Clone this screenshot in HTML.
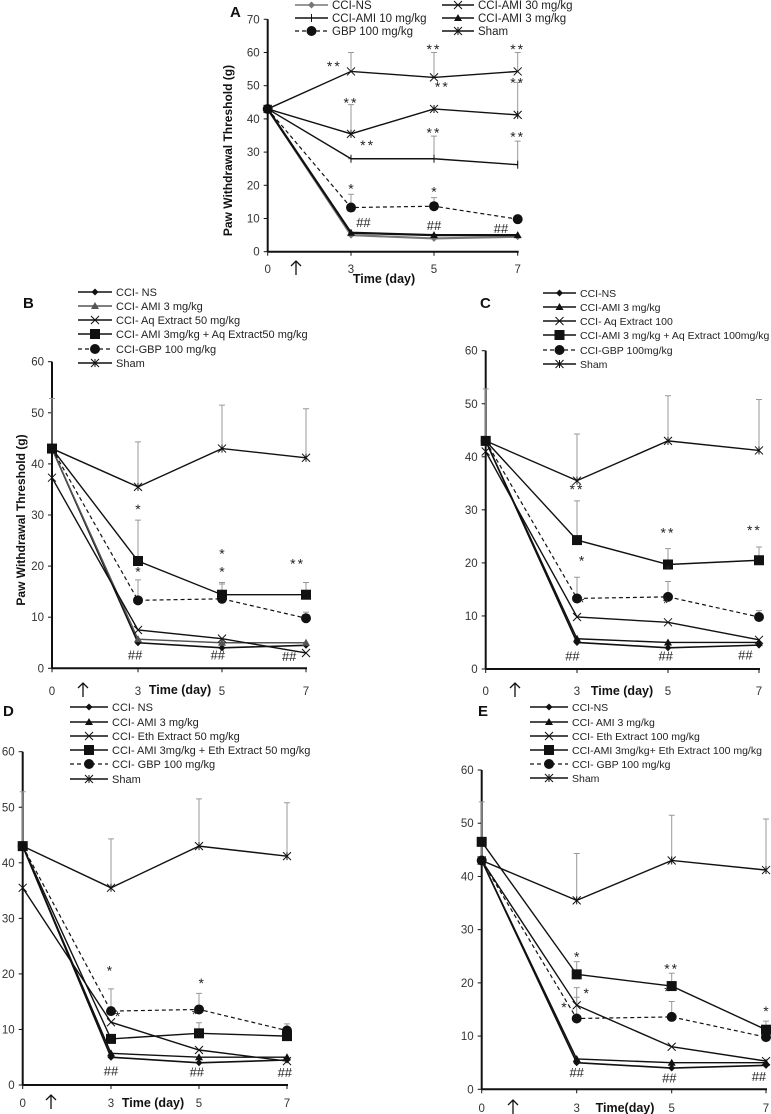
<!DOCTYPE html>
<html><head><meta charset="utf-8">
<style>
html,body{margin:0;padding:0;background:#fff;}
svg{display:block;font-family:"Liberation Sans",sans-serif;}
</style></head>
<body>
<svg id="fig" width="771" height="1114" viewBox="0 0 771 1114" xmlns="http://www.w3.org/2000/svg"></svg>
<script>
// ---- data (days and values) ----
const days = [0, 3, 5, 7];
const xTickLabels = ["0", "3", "5", "7"];
const yTicksA = [0, 10, 20, 30, 40, 50, 60, 70];
const yTicks = [0, 10, 20, 30, 40, 50, 60];

// Panel A
const aNS = [43, 5, 4, 4.5];
const aAMI30 = [43, 54.3, 52.5, 54.3];
const aAMI10 = [43, 28, 28, 26.2];
const aAMI3 = [43, 5.7, 5, 5];
const aGBP = [43, 13.3, 13.7, 9.8];
const aSham = [43, 35.5, 43, 41.2];
const aErrAMI30 = [null, 60, 60, 60];
const aErrAMI10 = [null, 28, 34.8, 33.3];
const aErrGBP = [null, 17.3, 16.3, null];
const aErrSham = [null, 44.3, null, 51];

// Panel B
const bNS = [43, 5, 4, 4.5];
const bAMI3 = [43, 5.7, 5, 5];
const bAq50 = [37.3, 7.5, 5.8, 3];
const bCombo = [43, 21, 14.4, 14.4];
const bGBP = [43, 13.3, 13.6, 9.8];
const bSham = [43, 35.5, 43, 41.2];
const bErrCombo = [null, 29, 16.8, 16.8];
const bErrGBP = [null, 17.3, 16.5, 11];
const bErrSham = [52.8, 44.3, 51.5, 50.8];

// Panel C
const cNS = [43, 5, 4, 4.5];
const cAMI3 = [43, 5.7, 5, 5];
const cAq100 = [41, 9.8, 8.8, 5.5];
const cCombo = [43, 24.3, 19.7, 20.5];
const cGBP = [43, 13.3, 13.6, 9.8];
const cSham = [43, 35.5, 43, 41.2];
const cErrCombo = [null, 31.7, 22.7, 23];
const cErrGBP = [null, 17.3, 16.5, 11];
const cErrSham = [52.8, 44.3, 51.5, 50.8];

// Panel D
const dNS = [43, 5, 4, 4.5];
const dAMI3 = [43, 5.7, 5, 5];
const dEth50 = [35.5, 11.3, 6.3, 4.3];
const dCombo = [43, 8.3, 9.3, 8.8];
const dGBP = [43, 13.3, 13.6, 9.8];
const dSham = [43, 35.5, 43, 41.2];
const dErrGBP = [null, 17.3, 16.5, 11];
const dErrCombo = [null, null, 11.2, 10];
const dErrSham = [52.8, 44.3, 51.5, 50.8];

// Panel E
const eNS = [43, 5, 4, 4.5];
const eAMI3 = [43, 5.7, 5, 5];
const eEth100 = [43, 15.8, 8, 5.3];
const eCombo = [46.5, 21.6, 19.4, 11.2];
const eGBP = [43, 13.3, 13.6, 9.8];
const eSham = [43, 35.5, 43, 41.2];
const eErrCombo = [null, 24, 21.8, 12.8];
const eErrEth = [null, 19.1, null, null];
const eErrGBP = [null, 17.3, 16.5, 11];
const eErrSham = [54, 44.3, 51.5, 50.8];

// annotations [day, value, text]
const annA = [[2.4,54.5,"**"],[3,43.5,"**"],[3.4,30.6,"**"],[5,59.5,"**"],[5.2,48.3,"**"],[5,34.4,"**"],[7,59.5,"**"],[7,49.5,"**"],[7,33.2,"**"],[3,17.6,"*"],[5,16.6,"*"],[3.3,7.5,"##"],[5,6.5,"##"],[6.6,5.7,"##"]];
const annB = [[3,30.2,"*"],[3,18,"*"],[5,21.5,"*"],[5,18,"*"],[6.8,19.5,"**"],[2.9,1.7,"##"],[4.9,1.7,"##"],[6.6,1.4,"##"]];
const annC = [[3,33,"**"],[3.1,19.5,"*"],[3.1,11.7,"*"],[5,24.8,"**"],[5,17.8,"*"],[4.95,11.5,"*"],[6.9,25.3,"**"],[2.85,1.6,"##"],[4.95,1.6,"##"],[6.7,1.8,"##"]];
const annD = [[2.95,19.7,"*"],[3.15,11.5,"*"],[5.05,17.5,"*"],[4.9,11.9,"*"],[3,1.7,"##"],[4.95,1.5,"##"],[6.95,1.4,"##"]];
const annE = [[3,24,"*"],[3.2,17.2,"*"],[2.6,14.5,"*"],[5,21.8,"**"],[4.9,17.5,"*"],[7,13.8,"*"],[3,2.3,"##"],[4.95,1.3,"##"],[6.85,1.6,"##"]];

// ---- geometry (layout only) ----
const panels = [
 {id:"a", letter:"A", lx:230, ly:17, ax:[267.7,351,434,517.7], y0:251.7, yTop:19.3, yMax:70, ticks:yTicksA,
  xtY:269, xTitle:"Time (day)", xTitleX:384, xTitleY:283, yTitle:true, yTitleX:232, arrowX:296, lf:11.5,
  series:[
   {name:"CCI-NS", v:aNS, m:"diamond", c:"#777", w:2.2},
   {name:"CCI-AMI 30 mg/kg", v:aAMI30, m:"x", c:"#111", w:1.4},
   {name:"CCI-AMI 10 mg/kg", v:aAMI10, m:"plus", c:"#111", w:1.4},
   {name:"CCI-AMI 3 mg/kg", v:aAMI3, m:"tri", c:"#111", w:2.2},
   {name:"GBP 100 mg/kg", v:aGBP, m:"circle", c:"#111", w:1.2, dash:true},
   {name:"Sham", v:aSham, m:"star", c:"#111", w:1.4}],
  errs:[aErrAMI30,aErrAMI10,aErrGBP,aErrSham], errBase:[aAMI30,aAMI10,aGBP,aSham],
  ann:annA,
  legend:{cols:[[295,332],[442,478]], rows:[5,18,31], order:[[0,0],[0,1],[1,0],[1,1],[2,0],[2,1]]}},
 {id:"b", letter:"B", lx:23, ly:308, ax:[52,138,222,306], y0:668.3, yTop:361.7, yMax:60, ticks:yTicks,
  xtY:691, xTitle:"Time (day)", xTitleX:180, xTitleY:694, yTitle:true, yTitleX:25, arrowX:83, lf:11,
  series:[
   {name:"CCI- NS", v:bNS, m:"diamond", c:"#111", w:1.6},
   {name:"CCI- AMI 3 mg/kg", v:bAMI3, m:"tri", c:"#555", w:1.4},
   {name:"CCI- Aq Extract 50 mg/kg", v:bAq50, m:"x", c:"#111", w:1.4},
   {name:"CCI- AMI 3mg/kg + Aq Extract50 mg/kg", v:bCombo, m:"square", c:"#111", w:1.4},
   {name:"CCI-GBP 100 mg/kg", v:bGBP, m:"circle", c:"#111", w:1.2, dash:true},
   {name:"Sham", v:bSham, m:"star", c:"#111", w:1.4}],
  errs:[bErrCombo,bErrGBP,bErrSham], errBase:[bCombo,bGBP,bSham], ann:annB,
  legend:{cols:[[78,116]], rows:[292,306,320,334,349,363]}},
 {id:"c", letter:"C", lx:480, ly:308, ax:[485.7,577,668,759], y0:669, yTop:350.7, yMax:60, ticks:yTicks,
  xtY:691, xTitle:"Time (day)", xTitleX:622, xTitleY:695, yTitle:false, arrowX:515, lf:10.5,
  series:[
   {name:"CCI-NS", v:cNS, m:"diamond", c:"#111", w:1.6},
   {name:"CCI-AMI 3 mg/kg", v:cAMI3, m:"tri", c:"#111", w:1.4},
   {name:"CCI- Aq Extract 100", v:cAq100, m:"x", c:"#111", w:1.4},
   {name:"CCI-AMI 3 mg/kg + Aq Extract 100mg/kg", v:cCombo, m:"square", c:"#111", w:1.4},
   {name:"CCI-GBP 100mg/kg", v:cGBP, m:"circle", c:"#111", w:1.2, dash:true},
   {name:"Sham", v:cSham, m:"star", c:"#111", w:1.4}],
  errs:[cErrCombo,cErrGBP,cErrSham], errBase:[cCombo,cGBP,cSham], ann:annC,
  legend:{cols:[[543,580]], rows:[293,307,321,335,350,364]}},
 {id:"d", letter:"D", lx:3, ly:716, ax:[22.7,111,199,287], y0:1085, yTop:751.7, yMax:60, ticks:yTicks,
  xtY:1103, xTitle:"Time (day)", xTitleX:153, xTitleY:1107, yTitle:false, arrowX:51, lf:11,
  series:[
   {name:"CCI- NS", v:dNS, m:"diamond", c:"#111", w:1.6},
   {name:"CCI- AMI 3 mg/kg", v:dAMI3, m:"tri", c:"#111", w:1.4},
   {name:"CCI- Eth Extract 50 mg/kg", v:dEth50, m:"x", c:"#111", w:1.4},
   {name:"CCI- AMI 3mg/kg + Eth Extract 50 mg/kg", v:dCombo, m:"square", c:"#111", w:1.4},
   {name:"CCI- GBP 100 mg/kg", v:dGBP, m:"circle", c:"#111", w:1.2, dash:true},
   {name:"Sham", v:dSham, m:"star", c:"#111", w:1.4}],
  errs:[dErrGBP,dErrCombo,dErrSham], errBase:[dGBP,dCombo,dSham], ann:annD,
  legend:{cols:[[70,112]], rows:[707,722,736,750,764,779]}},
 {id:"e", letter:"E", lx:478, ly:716, ax:[481.7,576.7,671.7,766], y0:1089.3, yTop:770, yMax:60, ticks:yTicks,
  xtY:1108, xTitle:"Time(day)", xTitleX:625, xTitleY:1112, yTitle:false, arrowX:513, lf:10.5,
  series:[
   {name:"CCI-NS", v:eNS, m:"diamond", c:"#111", w:1.6},
   {name:"CCI- AMI 3 mg/kg", v:eAMI3, m:"tri", c:"#111", w:1.4},
   {name:"CCI- Eth Extract 100 mg/kg", v:eEth100, m:"x", c:"#111", w:1.4},
   {name:"CCI-AMI 3mg/kg+ Eth Extract 100 mg/kg", v:eCombo, m:"square", c:"#111", w:1.4},
   {name:"CCI- GBP 100 mg/kg", v:eGBP, m:"circle", c:"#111", w:1.2, dash:true},
   {name:"Sham", v:eSham, m:"star", c:"#111", w:1.4}],
  errs:[eErrCombo,eErrEth,eErrGBP,eErrSham], errBase:[eCombo,eEth100,eGBP,eSham], ann:annE,
  legend:{cols:[[530,572]], rows:[707,722,736,750,764,778]}}
];

const NS = "http://www.w3.org/2000/svg";
const svg = document.getElementById("fig");
function mk(tag, attrs, parent){
  const e = document.createElementNS(NS, tag);
  for (const k in attrs) e.setAttribute(k, attrs[k]);
  (parent||svg).appendChild(e);
  return e;
}
function marker(g, type, x, y, color){
  const s = 4;
  let e;
  if (type === "diamond") e = mk("polygon",{points:`${x},${y-3.5} ${x+3.5},${y} ${x},${y+3.5} ${x-3.5},${y}`,fill:color},g);
  else if (type === "tri") e = mk("polygon",{points:`${x},${y-4} ${x+4},${y+3} ${x-4},${y+3}`,fill:color},g);
  else if (type === "square") e = mk("rect",{x:x-5,y:y-5,width:10,height:10,fill:color},g);
  else if (type === "circle") e = mk("circle",{cx:x,cy:y,r:5,fill:color},g);
  else if (type === "x") e = mk("path",{d:`M${x-s},${y-s}L${x+s},${y+s}M${x-s},${y+s}L${x+s},${y-s}`,stroke:color,"stroke-width":1,fill:"none"},g);
  else if (type === "plus") e = mk("path",{d:`M${x},${y-s}V${y+s}`,stroke:color,"stroke-width":1,fill:"none"},g);
  else e = mk("path",{d:`M${x-s},${y-s}L${x+s},${y+s}M${x-s},${y+s}L${x+s},${y-s}M${x},${y-s}V${y+s}`,stroke:color,"stroke-width":1,fill:"none"},g);
  
  
}

panels.forEach(p => {
  const g = mk("g",{});
  
  
  const xS = i => p.ax[i];
  const xD = d => {
    for (let i=0;i<days.length-1;i++){ if (d<=days[i+1]) return p.ax[i]+(d-days[i])/(days[i+1]-days[i])*(p.ax[i+1]-p.ax[i]); }
    return p.ax[p.ax.length-1];
  };
  const yS = v => p.y0 - v/p.yMax*(p.y0-p.yTop);

  const lt = mk("text",{x:p.lx,y:p.ly,"font-size":15,"font-weight":"bold",fill:"#111"},g);
  lt.textContent = p.letter;
  
  

  const yax = mk("line",{x1:p.ax[0],y1:p.y0,x2:p.ax[0],y2:p.yTop,stroke:"#111","stroke-width":2},g);
  
  
  const xax = mk("line",{x1:p.ax[0],y1:p.y0,x2:p.ax[3]+1,y2:p.y0,stroke:"#111","stroke-width":2},g);
  
  
  p.ticks.forEach(t => {
    mk("line",{x1:p.ax[0]-4,y1:yS(t),x2:p.ax[0],y2:yS(t),stroke:"#111","stroke-width":1},g);
    const tl = mk("text",{x:p.ax[0]-8,y:yS(t)+4,"font-size":11.5,"text-anchor":"end",fill:"#333"},g);
    tl.textContent = t;
    
    
  });
  days.forEach((d,i) => {
    mk("line",{x1:xS(i),y1:p.y0,x2:xS(i),y2:p.y0+4,stroke:"#111","stroke-width":1},g);
    const tl = mk("text",{x:xS(i),y:p.xtY+4,"font-size":11.5,"text-anchor":"middle",fill:"#333"},g);
    tl.textContent = xTickLabels[i];
    
    
  });
  const ax0 = p.arrowX, ay = p.xtY;
  const ar = mk("path",{d:`M${ax0},${ay+6}V${ay-8}M${ax0-5},${ay-3}L${ax0},${ay-8}L${ax0+5},${ay-3}`,stroke:"#111","stroke-width":1.3,fill:"none"},g);
  
  
  const xt = mk("text",{x:p.xTitleX,y:p.xTitleY,"font-size":12.5,"font-weight":"bold","text-anchor":"middle",fill:"#111"},g);
  xt.textContent = p.xTitle;
  
  
  if (p.yTitle){
    const cy = (p.y0+p.yTop)/2 + (p.id==="a"?15:5);
    const yt = mk("text",{x:p.yTitleX,y:cy,"font-size":12,"font-weight":"bold","text-anchor":"middle",fill:"#111",transform:`rotate(-90 ${p.yTitleX} ${cy})`},g);
    yt.textContent = "Paw Withdrawal Threshold (g)";
    
    
  }

  p.errs.forEach((arr, k) => {
    arr.forEach((top, i) => {
      if (top === null) return;
      const x = xS(i), yb = yS(p.errBase[k][i]), yt2 = yS(top);
      const eb = mk("path",{d:`M${x},${yb}V${yt2}M${x-3},${yt2}H${x+3}`,stroke:"#999","stroke-width":1,fill:"none"},g);
      
      
    });
  });

  p.series.forEach(s => {
    const pts = s.v.map((v,i)=>`${xS(i)},${yS(v)}`).join(" ");
    const pl = mk("polyline",{points:pts,fill:"none",stroke:s.c,"stroke-width":s.w},g);
    if (s.dash) pl.setAttribute("stroke-dasharray","4,3");
    
    
    s.v.forEach((v,i)=>marker(g, s.m, xS(i), yS(v), s.c));
  });

  p.ann.forEach(a => {
    const t = mk("text",{x:xD(a[0]),y:yS(a[1]),"font-size":a[2][0]==="#"?13:14,"text-anchor":"middle",fill:"#222","letter-spacing":a[2]==="**"?"2":"0"},g);
    t.textContent = a[2];
    
    
  });

  p.series.forEach((s, k) => {
    let col = 0, row = k;
    if (p.legend.order){ row = p.legend.order[k][0]; col = p.legend.order[k][1]; }
    const [lx, tx] = p.legend.cols[col];
    const y = p.legend.rows[row];
    const lg = mk("g",{},g);
    
    
    const ln = mk("line",{x1:lx,y1:y,x2:tx-4,y2:y,stroke:s.c,"stroke-width":s.dash?1.2:1.4},lg);
    if (s.dash) ln.setAttribute("stroke-dasharray","4,3");
    marker(lg, s.m, (lx+tx-4)/2, y, s.c);
    const t = mk("text",{x:tx,y:y+4,"font-size":p.lf,fill:"#222"},lg);
    t.textContent = s.name;
  });
});
</script>
</body></html>
